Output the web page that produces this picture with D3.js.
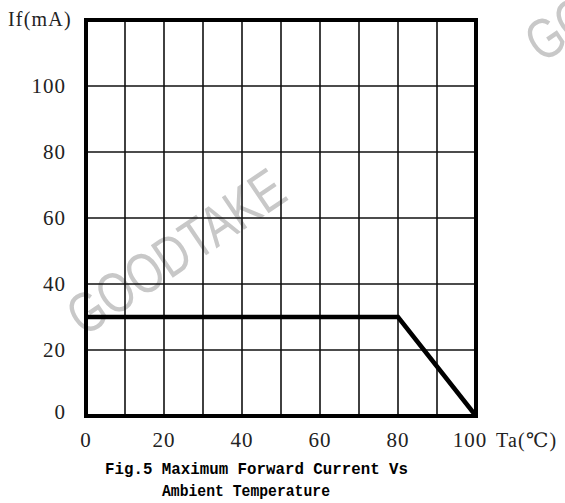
<!DOCTYPE html>
<html>
<head>
<meta charset="utf-8">
<script src="https://cdn.jsdelivr.net/npm/d3@7"></script>
<style>
  html, body { margin: 0; padding: 0; background: #fff; }
  svg { display: block; }
</style>
</head>
<body>
<svg id="chart" width="565" height="503"></svg>
<script>
// ---- data ----
const temps = [0, 80, 100];          // Ta (°C)
const currents = [30, 30, 0];        // If (mA)
const xTicks = [0, 20, 40, 60, 80, 100];
const yTicks = [0, 20, 40, 60, 80, 100];
const xGrid = [10, 20, 30, 40, 50, 60, 70, 80, 90];
const yGrid = [20, 40, 60, 80, 100];
const yLabel = "If(mA)";
const xLabel = "Ta(℃)";
const titleLines = ["Fig.5 Maximum Forward Current Vs", "Ambient Temperature"];
const watermark = "GOODTAKE";

const svg = d3.select("#chart");
const x = d3.scaleLinear().domain([0, 100]).range([86, 476]);
const y = d3.scaleLinear().domain([0, 120]).range([416, 20]);

const serif = "'Liberation Serif', 'DejaVu Serif', serif";

// watermark (behind)
const wm = svg.append("g").attr("fill", "#c8c8c8")
  .style("font-family", "'Liberation Sans', Arial, sans-serif")
  .style("font-size", "57px");
wm.append("text")
  .attr("x", 0).attr("y", 0)
  .attr("text-anchor", "middle").attr("dominant-baseline", "central")
  .attr("transform", "translate(176,252) rotate(-34) scale(0.78,1)")
  .text(watermark);
wm.append("text")
  .attr("x", 0).attr("y", 0)
  .attr("text-anchor", "start")
  .attr("transform", "translate(542,64) rotate(-34) scale(0.78,1)")
  .text(watermark);

// grid
const grid = svg.append("g").attr("stroke", "#111").attr("stroke-width", 1.6);
grid.selectAll("line.v").data(xGrid).join("line")
  .attr("class", "v")
  .attr("x1", d => x(d)).attr("x2", d => x(d))
  .attr("y1", y(120)).attr("y2", y(0));
grid.selectAll("line.h").data(yGrid).join("line")
  .attr("class", "h")
  .attr("x1", x(0)).attr("x2", x(100))
  .attr("y1", d => y(d)).attr("y2", d => y(d));

// frame
svg.append("rect")
  .attr("x", x(0)).attr("y", y(120))
  .attr("width", x(100) - x(0)).attr("height", y(0) - y(120))
  .attr("fill", "none").attr("stroke", "#000").attr("stroke-width", 4);

// data line
const line = d3.line().x((d, i) => x(temps[i])).y((d, i) => y(currents[i]));
svg.append("path")
  .datum(currents)
  .attr("d", line)
  .attr("fill", "none").attr("stroke", "#000").attr("stroke-width", 4.5)
  .attr("stroke-linejoin", "miter");

// y tick labels
svg.append("g").selectAll("text").data(yTicks).join("text")
  .attr("x", 66).attr("y", d => y(d) - (d === 0 ? 4 : 0))
  .attr("text-anchor", "end").attr("dominant-baseline", "central")
  .style("font-family", serif).style("font-size", "21px").style("letter-spacing", "1px")
  .attr("fill", "#222")
  .text(d => d);

// x tick labels
svg.append("g").selectAll("text").data(xTicks).join("text")
  .attr("x", d => x(d) - (d === 100 ? 6 : 0)).attr("y", 440)
  .attr("text-anchor", "middle").attr("dominant-baseline", "central")
  .style("font-family", serif).style("font-size", "21px").style("letter-spacing", "1px")
  .attr("fill", "#222")
  .text(d => d);

// axis names
svg.append("text").attr("x", 8).attr("y", 19)
  .attr("dominant-baseline", "central")
  .style("font-family", serif).style("font-size", "20px").style("letter-spacing", "1.2px")
  .attr("fill", "#222").text(yLabel);
svg.append("text").attr("x", 496).attr("y", 440)
  .attr("dominant-baseline", "central")
  .style("font-family", serif).style("font-size", "20px").style("letter-spacing", "1.2px")
  .attr("fill", "#222").text(xLabel);

// caption
const capStart = [105, 162];
const capLen = [303, 168];
svg.append("g").selectAll("text").data(titleLines).join("text")
  .attr("x", (d, i) => capStart[i]).attr("y", (d, i) => 474 + i * 22)
  .attr("textLength", (d, i) => capLen[i])
  .attr("lengthAdjust", "spacingAndGlyphs")
  .style("font-family", "'Liberation Mono', 'DejaVu Sans Mono', monospace")
  .style("font-size", "17px").style("font-weight", "bold")
  .attr("fill", "#000")
  .text(d => d);
</script>
</body>
</html>
